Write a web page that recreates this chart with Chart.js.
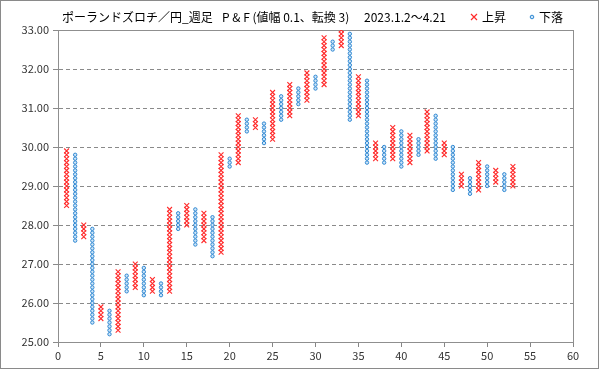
<!DOCTYPE html>
<html>
<head>
<meta charset="utf-8">
<script src="https://cdn.jsdelivr.net/npm/chart.js@4"></script>
<style>
html, body { margin: 0; padding: 0; background: #fff; }
</style>
</head>
<body>
<canvas id="pfChart" width="599" height="369"></canvas>
<script>
// Point & Figure columns (box 0.1, reversal 3)
var columnNo   = [1, 2, 3, 4, 5, 6, 7, 8, 9, 10, 11, 12, 13, 14, 15, 16, 17, 18, 19, 20,
                  21, 22, 23, 24, 25, 26, 27, 28, 29, 30, 31, 32, 33, 34, 35, 36, 37, 38, 39, 40,
                  41, 42, 43, 44, 45, 46, 47, 48, 49, 50, 51, 52, 53];
var columnType = ['X','O','X','O','X','O','X','O','X','O','X','O','X','O','X','O','X','O','X','O',
                  'X','O','X','O','X','O','X','O','X','O','X','O','X','O','X','O','X','O','X','O',
                  'X','O','X','O','X','O','X','O','X','O','X','O','X'];
var columnLow  = [28.5, 27.6, 27.7, 25.5, 25.6, 25.2, 25.3, 26.3, 26.4, 26.2, 26.3, 26.2, 26.3, 27.9, 28.0, 27.5, 27.6, 27.2, 27.3, 29.5,
                  29.6, 30.4, 30.5, 30.1, 30.2, 30.7, 30.8, 31.1, 31.2, 31.5, 31.6, 32.5, 32.6, 30.7, 30.8, 29.6, 29.7, 29.6, 29.7, 29.5,
                  29.6, 29.8, 29.9, 29.7, 29.8, 28.9, 29.0, 28.8, 28.9, 29.0, 29.1, 28.9, 29.0];
var columnHigh = [29.9, 29.8, 28.0, 27.9, 25.9, 25.8, 26.8, 26.7, 27.0, 26.9, 26.6, 26.5, 28.4, 28.3, 28.5, 28.4, 28.3, 28.2, 29.8, 29.7,
                  30.8, 30.7, 30.7, 30.6, 31.4, 31.3, 31.6, 31.5, 31.9, 31.8, 32.8, 32.7, 33.0, 32.9, 31.8, 31.7, 30.1, 30.0, 30.5, 30.4,
                  30.3, 30.2, 30.9, 30.8, 30.1, 30.0, 29.3, 29.2, 29.6, 29.5, 29.4, 29.3, 29.5];
var boxSize = 0.1;

var titleMain = 'ポーランドズロチ／円_週足';
var titlePF = 'P & F (値幅 0.1、転換 3)';
var titleRange = '2023.1.2～4.21';
var upLabel = '上昇';
var downLabel = '下落';

var upColor = '#ff2a2a';
var downColor = '#2f88d3';
var downFill = '#cfe6f8';

// one mark per box in every column
var upPoints = [];
var downPoints = [];
for (var i = 0; i < columnNo.length; i++) {
    var boxes = Math.round((columnHigh[i] - columnLow[i]) / boxSize);
    for (var k = 0; k <= boxes; k++) {
        var p = { x: columnNo[i], y: Math.round((columnLow[i] + k * boxSize) * 10) / 10 };
        if (columnType[i] === 'X') upPoints.push(p); else downPoints.push(p);
    }
}

var fontJP = '"Noto Sans CJK JP", "Noto Sans", sans-serif';

var framePlugin = {
    id: 'frame',
    beforeDraw: function (chart) {
        var ctx = chart.ctx;
        ctx.save();
        ctx.fillStyle = '#ffffff';
        ctx.fillRect(0, 0, chart.width, chart.height);
        ctx.restore();
    },
    beforeDatasetsDraw: function (chart) {
        var a = chart.chartArea;
        var ctx = chart.ctx;
        ctx.save();
        ctx.strokeStyle = '#8f8f8f';
        ctx.lineWidth = 1;
        ctx.strokeRect(a.left + 0.5, a.top + 0.5, a.right - a.left, a.bottom - a.top);
        ctx.restore();
    },
    afterDraw: function (chart) {
        var ctx = chart.ctx;
        ctx.save();
        // outer frame
        ctx.strokeStyle = '#8a8a8a';
        ctx.lineWidth = 1;
        ctx.strokeRect(0.5, 0.5, chart.width - 1, chart.height - 1);

        // title
        ctx.fillStyle = '#000000';
        ctx.textBaseline = 'middle';
        ctx.font = '12px ' + fontJP;
        ctx.fillText(titleMain, 62, 17);
        ctx.fillText(titlePF, 222, 17);
        ctx.fillText(titleRange, 364, 17);

        // legend
        ctx.strokeStyle = upColor;
        ctx.lineWidth = 1.2;
        ctx.beginPath();
        ctx.moveTo(471, 14); ctx.lineTo(477, 20);
        ctx.moveTo(477, 14); ctx.lineTo(471, 20);
        ctx.stroke();
        ctx.fillText(upLabel, 482, 17);

        ctx.strokeStyle = downColor;
        ctx.fillStyle = downFill;
        ctx.lineWidth = 1;
        ctx.beginPath();
        ctx.arc(532, 17, 1.8, 0, Math.PI * 2);
        ctx.fill();
        ctx.stroke();
        ctx.fillStyle = '#000000';
        ctx.fillText(downLabel, 539, 17);
        ctx.restore();
    }
};

new Chart(document.getElementById('pfChart'), {
    type: 'scatter',
    data: {
        datasets: [{
            label: upLabel,
            data: upPoints,
            pointStyle: 'crossRot',
            pointRadius: 3.4,
            borderColor: upColor,
            backgroundColor: upColor,
            pointBorderWidth: 1.1,
            showLine: false
        }, {
            label: downLabel,
            data: downPoints,
            pointStyle: 'circle',
            pointRadius: 1.7,
            borderColor: downColor,
            backgroundColor: downFill,
            pointBorderWidth: 1,
            showLine: false
        }]
    },
    options: {
        responsive: false,
        animation: false,
        layout: { padding: { top: 30, right: 26, left: 0, bottom: 0 } },
        plugins: {
            legend: { display: false },
            tooltip: { enabled: false },
            title: { display: false }
        },
        scales: {
            x: {
                type: 'linear',
                min: 0,
                max: 60,
                ticks: { stepSize: 5, color: '#333333', font: { family: fontJP, size: 11 }, padding: 2 },
                grid: { drawOnChartArea: false, tickLength: 5, color: '#868686' },
                border: { color: '#868686' },
                afterFit: function (s) { s.height = 27; }
            },
            y: {
                min: 25,
                max: 33,
                ticks: {
                    stepSize: 1,
                    color: '#333333',
                    font: { family: fontJP, size: 11 },
                    padding: 4,
                    callback: function (v) { return v.toFixed(2); }
                },
                grid: { color: '#8a8a8a', tickLength: 5 },
                border: { color: '#868686', dash: [4, 3] },
                afterFit: function (s) { s.width = 58; }
            }
        }
    },
    plugins: [framePlugin]
});
</script>
</body>
</html>
